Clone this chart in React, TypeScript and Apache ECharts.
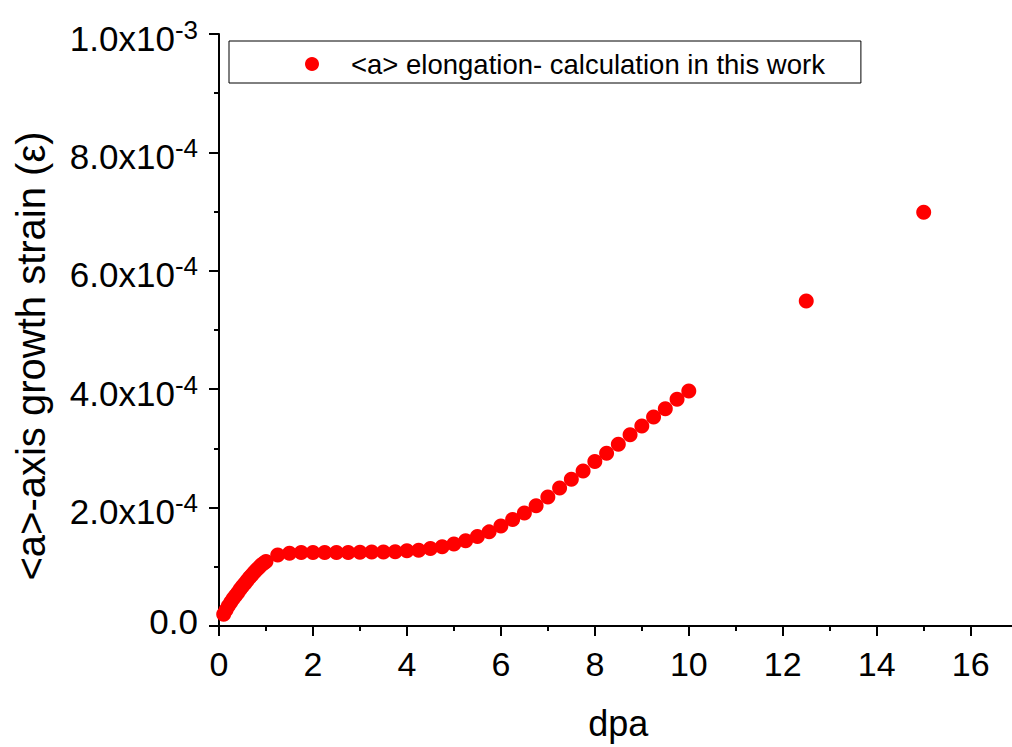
import React, { useEffect, useRef } from "react";
import * as echarts from "echarts";

// dpa values (x)
const dpa = [
  0.1, 0.15, 0.2, 0.25, 0.3, 0.35, 0.4, 0.45, 0.5, 0.55, 0.6, 0.65, 0.7, 0.75, 0.8, 0.85, 0.9, 0.95, 1.0,
  1.25, 1.5, 1.75, 2.0, 2.25, 2.5, 2.75, 3.0, 3.25, 3.5, 3.75, 4.0, 4.25, 4.5, 4.75, 5.0, 5.25, 5.5, 5.75,
  6.0, 6.25, 6.5, 6.75, 7.0, 7.25, 7.5, 7.75, 8.0, 8.25, 8.5, 8.75, 9.0, 9.25, 9.5, 9.75, 10.0,
  12.5, 15.0,
];
// <a>-axis growth strain, in units of 1e-4
const strainE4 = [
  0.2, 0.27, 0.34, 0.4, 0.46, 0.51, 0.56, 0.62, 0.67, 0.72, 0.77, 0.82, 0.86, 0.91, 0.95, 0.99, 1.03, 1.06, 1.09,
  1.2, 1.23, 1.24, 1.24, 1.24, 1.24, 1.24, 1.245, 1.25, 1.25, 1.255, 1.27, 1.28, 1.31, 1.34, 1.385, 1.44, 1.51, 1.59,
  1.69, 1.8, 1.91, 2.03, 2.18, 2.33, 2.48, 2.62, 2.78, 2.92, 3.07, 3.23, 3.38, 3.53, 3.67, 3.83, 3.97,
  5.49, 6.99,
];
const UNIT = 1e-4;
const seriesName = "<a> elongation- calculation in this work";
const xTitle = "dpa";
const yTitle = "<a>-axis growth strain (\u03b5)";

const FONT = "Liberation Sans, Arial, sans-serif";

export default function App() {
  const ref = useRef<HTMLDivElement>(null);
  useEffect(() => {
    if (!ref.current) return;
    const chart = echarts.init(ref.current, undefined, { renderer: "svg" });
    const data = dpa.map((x, i) => [x, strainE4[i] * UNIT]);
    const pxPerUnit = 46.98;
    chart.setOption({
      animation: false,
      backgroundColor: "#fff",
      textStyle: { fontFamily: FONT },
      grid: {
        left: 219,
        top: 34,
        width: 18 * pxPerUnit,
        height: 592,
        containLabel: false,
        outerBoundsMode: "none",
      },
      legend: {
        left: 229,
        top: 41,
        padding: [9, 36, 5, 76],
        borderColor: "#000",
        borderWidth: 1,
        itemWidth: 68,
        itemHeight: 14,
        icon: "circle",
        textStyle: { fontSize: 27.5, fontFamily: FONT, color: "#000", lineHeight: 28 },
        data: [seriesName],
      },
      xAxis: {
        type: "value",
        min: 0,
        max: 18,
        interval: 2,
        name: xTitle,
        nameLocation: "middle",
        nameGap: 79,
        nameTextStyle: { fontSize: 36, fontFamily: FONT, color: "#000", padding: [0, 47, 0, 0] },
        axisLine: { show: true, lineStyle: { color: "#000", width: 2 } },
        axisTick: { show: true, length: 10, lineStyle: { color: "#000", width: 2 } },
        minorTick: { show: true, splitNumber: 2, length: 5, lineStyle: { color: "#000", width: 2 } },
        splitLine: { show: false },
        axisLabel: {
          fontSize: 34,
          fontFamily: FONT,
          color: "#000",
          margin: 21,
          formatter: (v: number) => (v > 16 ? "" : String(v)),
        },
      },
      yAxis: {
        type: "value",
        min: 0,
        max: 1e-3,
        interval: 2e-4,
        name: yTitle,
        nameLocation: "middle",
        nameRotate: 90,
        nameGap: 168,
        nameTextStyle: { fontSize: 40, fontFamily: FONT, color: "#000", padding: [0, 52, 0, 0] },
        axisLine: { show: true, lineStyle: { color: "#000", width: 2 } },
        axisTick: { show: true, length: 10, lineStyle: { color: "#000", width: 2 } },
        minorTick: { show: true, splitNumber: 2, length: 5, lineStyle: { color: "#000", width: 2 } },
        splitLine: { show: false },
        axisLabel: {
          margin: 21,
          formatter: (v: number) => {
            if (v === 0) return "{z|0.0}";
            const [mant, exp] = v.toExponential(1).split("e");
            return `{m|${mant}x10}{s|${exp}}`;
          },
          rich: {
            z: { fontSize: 35, lineHeight: 35, fontFamily: FONT, color: "#000", padding: [0, 0, 10, 0] },
            m: { fontSize: 35, lineHeight: 35, fontFamily: FONT, color: "#000", padding: [8, 0, 0, 0] },
            s: {
              fontSize: 26,
              lineHeight: 26,
              fontFamily: FONT,
              color: "#000",
              verticalAlign: "top",
              padding: [0, 0, 18, 0],
            },
          },
        },
      },
      series: [
        {
          name: seriesName,
          type: "scatter",
          symbol: "circle",
          symbolSize: 15,
          itemStyle: { color: "#ff0000", opacity: 1 },
          data,
        },
      ],
    });
    return () => chart.dispose();
  }, []);
  return (
    <div
      ref={ref}
      style={{ position: "fixed", left: 0, top: 0, width: 1012, height: 747 }}
    />
  );
}
